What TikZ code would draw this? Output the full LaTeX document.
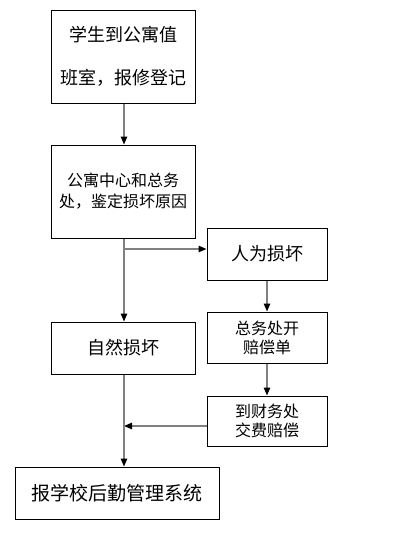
\documentclass[tikz,border=0pt]{standalone}
\usepackage{fontspec}
\setmainfont{Noto Sans CJK SC}
\usetikzlibrary{arrows.meta}
\begin{document}
\begin{tikzpicture}[x=1pt,y=-1pt,
  box/.style={draw=black,line width=1pt,fill=white,inner sep=0pt,align=center},
  conn/.style={draw=black!50,line width=1.3pt,-{Triangle[color=black,length=8pt,width=6.5pt]}},
  plain/.style={draw=black!50,line width=1.3pt}]
\useasboundingbox (0,0) rectangle (404,546);
\fill[white] (0,0) rectangle (404,546);
\node[box,minimum width=144pt,minimum height=93pt,font=\fontsize{18}{43}\selectfont] (b1) at (123,56.5) {学生到公寓值\\班室，报修登记};
\node[box,minimum width=144pt,minimum height=93pt,font=\fontsize{16}{21}\selectfont] (b2) at (123,191.5) {公寓中心和总务\\处，鉴定损坏原因};
\node[box,minimum width=120pt,minimum height=52pt,font=\fontsize{18}{22}\selectfont] (b3) at (267,254) {人为损坏};
\node[box,minimum width=144pt,minimum height=52pt,font=\fontsize{18}{22}\selectfont] (b4) at (123,348) {自然损坏};
\node[box,minimum width=120pt,minimum height=51pt,font=\fontsize{16}{19}\selectfont] (b5) at (267,337.5) {总务处开\\赔偿单};
\node[box,minimum width=120pt,minimum height=50pt,font=\fontsize{16}{19}\selectfont] (b6) at (267,421) {到财务处\\交费赔偿};
\node[box,minimum width=204pt,minimum height=52pt,font=\fontsize{19}{22}\selectfont] (b7) at (117,493) {报学校后勤管理系统};
\coordinate (j1) at (124,249);
\coordinate (j2) at (124,426);
\draw[conn] (b1.south -| j1) -- (b2.north -| j1);
\draw[conn] (b2.south -| j1) -- (b4.north -| j1);
\draw[conn] (j1) -- (j1 -| b3.west);
\draw[conn] (b3) -- (b5);
\draw[conn] (b5) -- (b6);
\draw[conn] (j2 -| b6.west) -- (j2);
\draw[conn] (b4.south -| j1) -- (b7.north -| j1);
\end{tikzpicture}
\end{document}
